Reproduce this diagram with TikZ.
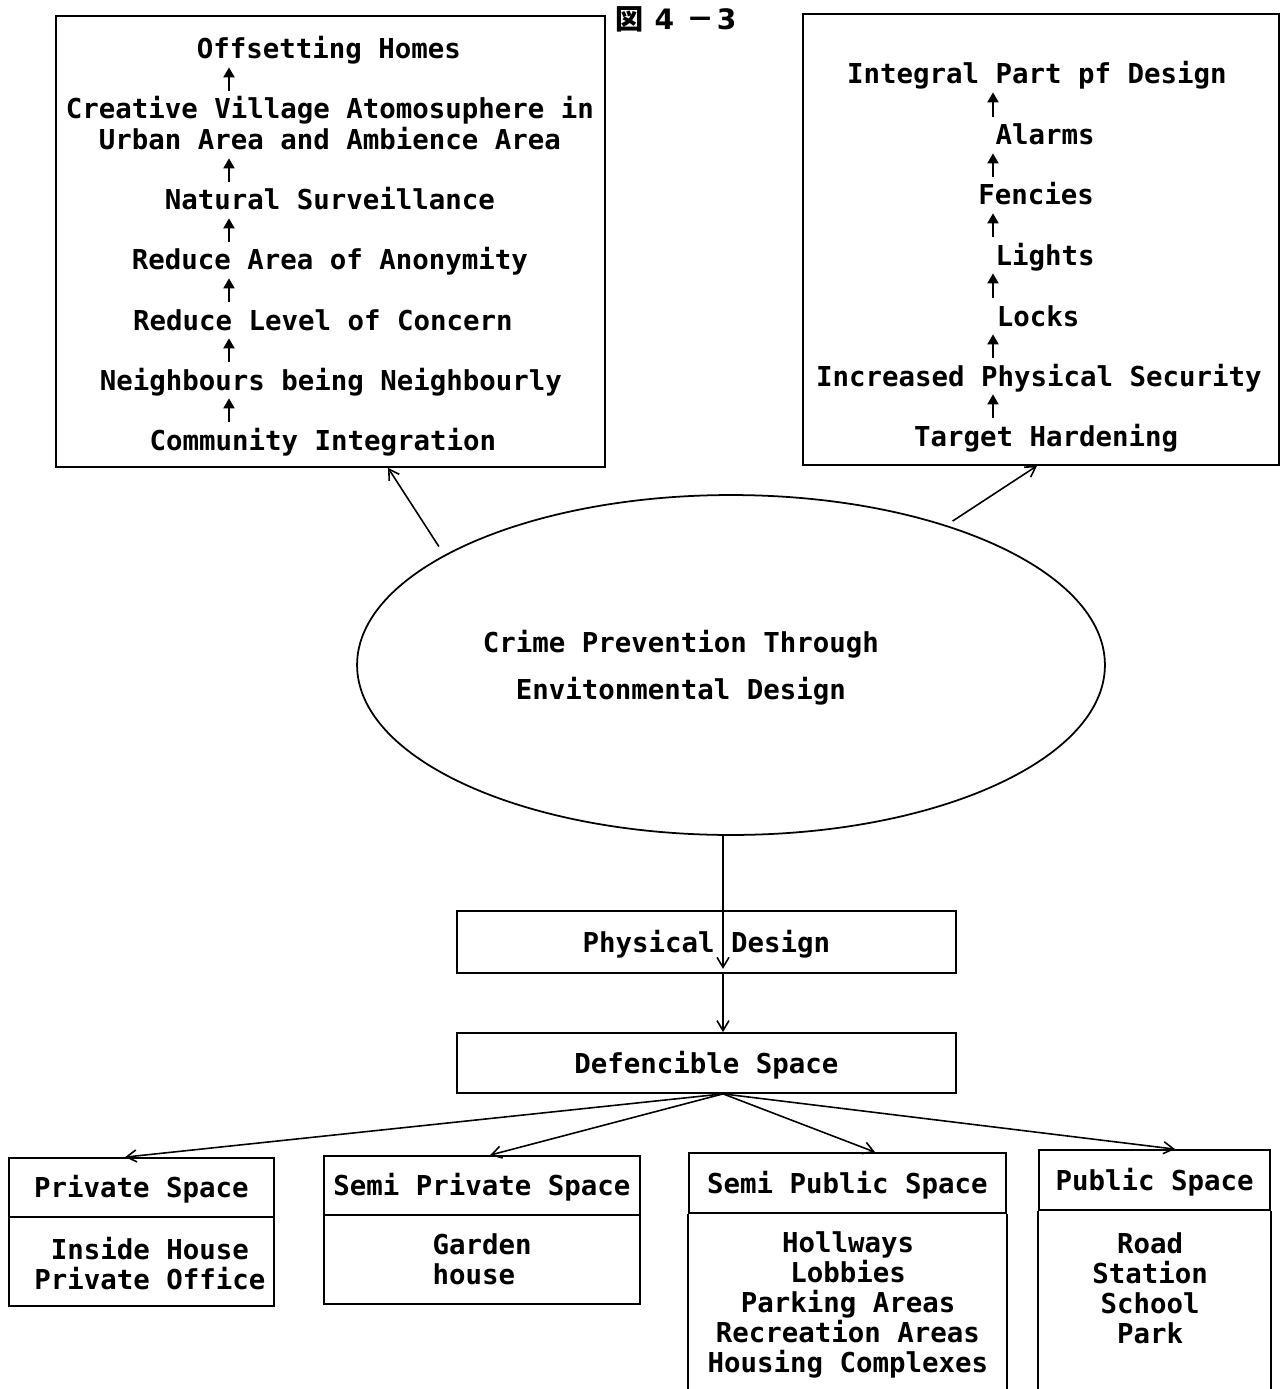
\documentclass[tikz,border=0pt]{standalone}
\usepackage{fontspec}
\usetikzlibrary{arrows.meta,shapes.geometric}
\newfontfamily\labelfont{DejaVu Sans Mono}
\newfontfamily\titlefont{DejaVu Sans}
\newfontfamily\cjkfont{Noto Sans CJK JP}

\begin{document}
\begin{tikzpicture}[
x=0.02cm, y=-0.02cm,
textline/.style={
font=\labelfont\bfseries\fontsize{15.6}{17}\selectfont,
inner sep=0pt,
text height=0.56cm,
text depth=0.16cm},
textblock/.style={
font=\labelfont\bfseries\fontsize{15.6}{17}\selectfont,
inner sep=0pt,
align=center},
panel/.style={
draw,
line width=1pt,
rectangle,
inner sep=0pt},
uparr/.style={line width=1.1pt, -{Triangle[length=0.2cm,width=0.22cm]}},
conn/.style={line width=0.9pt, -{Straight Barb[length=0.2cm,width=0.24cm]}}
]
\useasboundingbox (0,0) rectangle (1280,1389);
\coordinate (bottom) at (0,1389);
\coordinate (lax) at (229,0);
\coordinate (rax) at (993,0);

% title
\draw (676,19)node[font=\bfseries\fontsize{16}{16}\selectfont] (fig) {{\cjkfont 図}\hspace{0.22cm}{\titlefont 4}\hspace{0.25cm}{\cjkfont －}\hspace{0.04cm}{\titlefont 3}};

% left box
\draw (330.5,241.5)node[panel, minimum width=10.98cm, minimum height=9.02cm] (lbox) {};
\draw (329,49)node[textline] (l0) {Offsetting Homes};
\draw (330,109)node[textline] (l1a) {Creative Village Atomosuphere in};
\draw (330,140)node[textline] (l1b) {Urban Area and Ambience Area};
\draw (330,200)node[textline] (l2) {Natural Surveillance};
\draw (330,260)node[textline] (l3) {Reduce Area of Anonymity};
\draw (323,320)node[textline] (l4) {Reduce Level of Concern};
\draw (331,380)node[textline] (l5) {Neighbours being Neighbourly};
\draw (323,440)node[textline] (l6) {Community Integration};
\draw[uparr] (l1a.north -| lax) -- (l0.south -| lax);
\draw[uparr] (l2.north -| lax) -- (l1b.south -| lax);
\draw[uparr] (l3.north -| lax) -- (l2.south -| lax);
\draw[uparr] (l4.north -| lax) -- (l3.south -| lax);
\draw[uparr] (l5.north -| lax) -- (l4.south -| lax);
\draw[uparr] (l6.north -| lax) -- (l5.south -| lax);

% right box
\draw (1041,239.5)node[panel, minimum width=9.52cm, minimum height=9.02cm] (rbox) {};
\draw (1037,74)node[textline] (r0) {Integral Part pf Design};
\draw (1045,135)node[textline] (r1) {Alarms};
\draw (1036,195)node[textline] (r2) {Fencies};
\draw (1045,255)node[textline] (r3) {Lights};
\draw (1038,316)node[textline] (r4) {Locks};
\draw (1039,376)node[textline] (r5) {Increased Physical Security};
\draw (1046,436)node[textline] (r6) {Target Hardening};
\draw[uparr] (r1.north -| rax) -- (r0.south -| rax);
\draw[uparr] (r2.north -| rax) -- (r1.south -| rax);
\draw[uparr] (r3.north -| rax) -- (r2.south -| rax);
\draw[uparr] (r4.north -| rax) -- (r3.south -| rax);
\draw[uparr] (r5.north -| rax) -- (r4.south -| rax);
\draw[uparr] (r6.north -| rax) -- (r5.south -| rax);

% centre ellipse
\draw (731,665)node[draw, ellipse, line width=1pt, inner sep=0pt, minimum width=14.96cm, minimum height=6.8cm] (cpted) {};
\draw (681,667.5)node[textblock, font=\labelfont\bfseries\fontsize{15.6}{26.7}\selectfont] (cptedtext) {Crime Prevention Through\\Envitonmental Design};
\draw[conn, shorten <=0.2cm] (cpted.159) -- ([xshift=1.15cm]lbox.south);
\draw[conn, shorten <=0.15cm] (cpted.33) -- ([xshift=-0.08cm]rbox.south);

% design chain
\draw (706.5,942)node[panel, textline, minimum width=9.98cm, minimum height=1.24cm] (pdes) {Physical Design};
\draw (706.5,1063)node[panel, textline, minimum width=9.98cm, minimum height=1.2cm] (dspace) {Defencible Space};
\draw[conn] ([xshift=-0.16cm]cpted.south) -- ([xshift=0.33cm,yshift=0.1cm]pdes.south);
\draw[conn] ([xshift=0.33cm]pdes.south) -- ([xshift=0.33cm]dspace.north);

% spaces
\draw (141.5,1187.5)node[panel, textline, minimum width=5.3cm, minimum height=1.18cm] (privt) {Private Space};
\draw (141.5,1261.5)node[panel, minimum width=5.3cm, minimum height=1.78cm] (privb) {};
\draw (150,1263.5)node[textblock] (privtext) {Inside House\\Private Office};
\draw (482,1185.5)node[panel, textline, minimum width=6.32cm, minimum height=1.18cm] (sprivt) {Semi Private Space};
\draw (482,1259.5)node[panel, textblock, align=left, minimum width=6.32cm, minimum height=1.78cm] (sprivb) {Garden\\house};
\draw (847.5,1183)node[panel, textline, minimum width=6.34cm, minimum height=1.2cm] (spubt) {Semi Public Space};
\draw (848,1305)node[textblock] (spubb) {Hollways\\Lobbies\\Parking Areas\\Recreation Areas\\Housing Complexes};
\draw (1154.5,1180)node[panel, textline, minimum width=4.62cm, minimum height=1.2cm] (pubt) {Public Space};
\draw (1150,1288)node[textblock] (pubb) {Road\\Station\\School\\Park};
\draw[line width=1pt] (spubt.south west) -- (spubt.south west |- bottom);
\draw[line width=1pt] (spubt.south east) -- (spubt.south east |- bottom);
\draw[line width=1pt] (pubt.south west) -- (pubt.south west |- bottom);
\draw[line width=1pt] (pubt.south east) -- (pubt.south east |- bottom);

% fan out
\draw[conn] ([xshift=0.33cm]dspace.south) -- ([xshift=-0.33cm]privt.north);
\draw[conn] ([xshift=0.33cm]dspace.south) -- ([xshift=0.16cm]sprivt.north);
\draw[conn] ([xshift=0.33cm]dspace.south) -- ([xshift=0.55cm]spubt.north);
\draw[conn] ([xshift=0.33cm]dspace.south) -- ([xshift=0.41cm]pubt.north);

\end{tikzpicture}
\end{document}
